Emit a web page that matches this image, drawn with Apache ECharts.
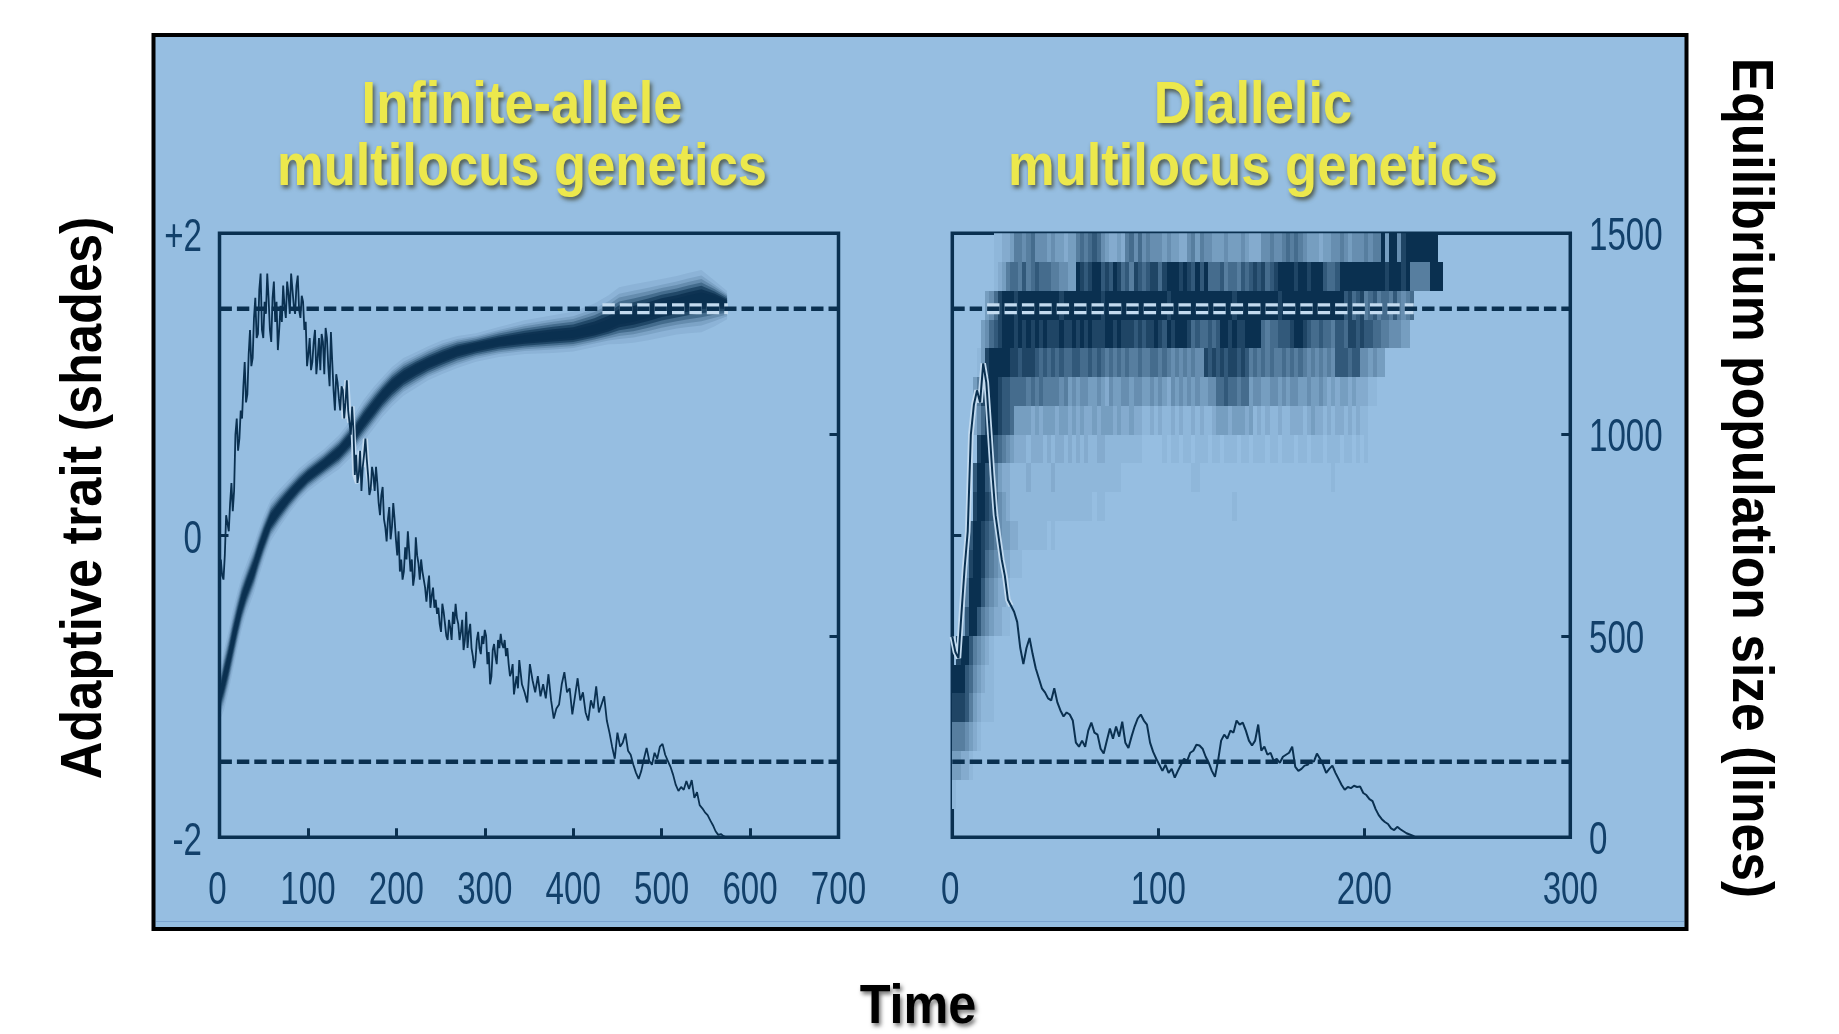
<!DOCTYPE html>
<html><head><meta charset="utf-8">
<style>html,body{margin:0;padding:0;background:#fff}#c{width:1839px;height:1034px}</style>
<script src="https://cdn.jsdelivr.net/npm/echarts@6/dist/echarts.min.js"></script>
</head><body><div id="c"></div>
<script>
const xTicksLeft=[0,100,200,300,400,500,600,700];
const xTicksRight=[0,100,200,300];
const traitTicks=[2,0,-2];
const traitTickLabels=['+2','0','-2'];
const popTicks=[0,500,1000,1500];
const dashLevels=[1.5,-1.5];

// adaptive trait shading, infinite-allele panel
const traitTime=[0,5,10,15,20,25,30,39,44,50,58,68,79,90,100,118,135,150,163,175,184,195,208,222,236,252,269,290,316,345,377,400,424,440,452,468,485,500,517,530,545,560,574];
const traitMean=[-1.08,-0.96,-0.84,-0.7,-0.57,-0.45,-0.36,-0.22,-0.12,-0.02,0.1,0.18,0.26,0.33,0.39,0.47,0.55,0.65,0.76,0.85,0.92,0.99,1.05,1.1,1.14,1.18,1.22,1.25,1.28,1.3,1.32,1.33,1.36,1.39,1.43,1.45,1.48,1.51,1.53,1.55,1.57,1.56,1.53];
const traitUpper=[-0.95,-0.8,-0.68,-0.54,-0.42,-0.31,-0.23,-0.09,0,0.1,0.21,0.28,0.35,0.42,0.47,0.55,0.64,0.75,0.87,0.96,1.02,1.09,1.15,1.19,1.23,1.27,1.3,1.32,1.36,1.4,1.43,1.45,1.5,1.55,1.6,1.62,1.64,1.66,1.68,1.7,1.72,1.66,1.6];
const traitLower=[-1.2,-1.12,-1,-0.86,-0.72,-0.59,-0.49,-0.35,-0.25,-0.14,-0.01,0.08,0.17,0.25,0.31,0.39,0.46,0.55,0.65,0.74,0.81,0.88,0.95,1,1.05,1.09,1.13,1.17,1.2,1.22,1.23,1.24,1.27,1.29,1.3,1.31,1.33,1.35,1.37,1.38,1.39,1.42,1.45];

// population size, infinite-allele panel, one value every 3 generations
const popStepLeft=3;
const popLeft=[620,650,700,780,830,810,1000,960,1060,1120,1080,1200,1170,1290,1240,1360,1260,1330,1400,1260,1340,1280,1210,1320,1370,1290,1350,1400,1320,1370,1310,1345,1260,1170,1240,1180,1260,1190,1160,1230,1265,1170,1255,1110,1150,1090,1120,1040,1135,1030,1070,900,880,960,920,990,900,865,900,920,830,850,790,735,820,770,790,700,660,640,720,760,660,625,745,680,690,640,585,650,600,570,555,530,580,530,490,520,560,580,530,510,465,560,510,470,420,490,470,500,515,430,380,465,450,490,505,470,450,430,410,355,400,440,380,360,335,430,390,360,400,350,380,345,405,340,295,320,330,380,410,360,370,305,350,395,340,360,310,290,340,320,375,310,330,350,290,260,225,195,260,225,235,258,215,205,180,160,145,165,195,222,190,180,210,195,225,232,205,190,175,155,130,115,125,118,140,120,142,98,112,80,72,62,55,42,30,15,6,8,3,0];
// extra wiggle readings half way between the values above, early part of the line
const popLeftBetween=[690,640,800,760,880,860,1040,990,1040,1180,1100,1260,1190,1340,1250,1400,1240,1300,1340,1230,1380,1330,1260,1280,1320,1380,1300,1360,1300,1395,1290,1330,1280,1200,1160,1230,1150,1240,1250,1150,1240,1120,1180,1060,1130,1060,1110,1080,1060,1000,1010,950,900,860,950,940,850,920,860,880,800,870,770,790,740,830,740,760,690,660,690,710,690,650,700,640,660,620,620,570,620,590,570,510,560,500,540,490,530,545,490,540,490,470,530,450,440,510,455,480,500,460,400,480,430,470,480,490,470,400,430,380,370,410];

// population size, diallelic panel, one value every 1.5 generations
const popStepRight=1.5;
const popRight=[498,460,445,560,670,760,1000,1075,1110,1080,1177,1130,1018,900,800,745,690,650,590,575,560,535,470,430,470,495,455,420,395,370,360,345,340,370,335,315,300,310,305,290,235,225,240,225,265,285,260,255,220,208,240,270,245,275,250,287,235,222,250,275,295,305,290,280,235,212,195,180,165,180,160,170,148,165,180,195,190,210,215,230,228,220,200,185,165,150,190,240,255,245,265,260,290,280,285,265,240,228,240,280,215,225,205,210,190,195,185,200,205,210,225,175,165,170,178,180,190,188,208,195,180,160,170,178,160,145,130,118,125,122,128,125,126,110,105,95,90,70,55,45,38,33,22,18,26,20,15,10,7,4,0];

// shade (0-9) of each trait class over time, top class first, one digit per 2 generations
const shadeColumnStep=2;
const shadeRow00='00000000'+'0011223'+'55456'+'444343'+'3233'+'565676'+'432232'+'564645'+'444343'+'322'+'453544'+'333433'+'34322'+'244544'+'565654'+'333233'+'4454344'+'4545'+'59399489'+'9999999';
const shadeRow01='0000000000'+'123'+'56657567666554433'+'98789978798'+'67587678868'+'9998987979'+'6667566576'+'7878678'+'99998998999'+'7667'+'99999999999899989'+'55555'+'999';
const shadeRow02='00000000'+'3468'+'99989999999999899999999989999999999999998999999999999999899999999998999999999999999'+'78678567566575456';
const shadeRow03='0000000'+'34678'+'99989898989888988'+'989898889989888'+'78788987989998'+'6766767'+'9989889999'+'6566777'+'89987'+'667665776'+'8878776'+'65544433';
const shadeRow04='000000'+'13899999'+'887888'+'76767676677667676'+'5656565565566565'+'45454544'+'87878788787'+'56565655656565'+'4545454'+'777677'+'443433';
const shadeRow05='00000358999'+'87766665656555545'+'343443343243344344334343243434343344'+'66766566'+'3443344343443343'+'343232332322211';
const shadeRow06='000002468998776'+'3333232333233232322323332322322'+'112121121211212112'+'333233323'+'121211211'+'222123221212212121'+'1';
const shadeRow07='000000899876543'+'2221222121221212121122111111111'+'00000'+'10110110111011011101101110110111011011101110110101';
const shadeRow08='00000799765322'+'1111211111211111111111111'+'11000'+'0000000000000011000000000000000000000000000000001';
const shadeRow09='00000899876432'+'11111111111111111111011'+'0000000000000000000000000000000100';
const shadeRow10='0000799876543322111'+'1111010';
const shadeRow11='0004899865432211'+'1';
const shadeRow12='00059997543221';
const shadeRow13='00379975432211';
const shadeRow14='0899754321';
const shadeRow15='9997643211';
const shadeRow16='8887532111';
const shadeRow17='5554321';
const shadeRow18='33221';
const shadeRow19='1';
const shadeRows=[shadeRow00,shadeRow01,shadeRow02,shadeRow03,shadeRow04,shadeRow05,shadeRow06,shadeRow07,shadeRow08,shadeRow09,shadeRow10,shadeRow11,shadeRow12,shadeRow13,shadeRow14,shadeRow15,shadeRow16,shadeRow17,shadeRow18,shadeRow19];
const traitClassCount=21;

const DARK='#0a3050', BGRGB=[0x96,0xbe,0xe1], BG='#96bee1', HALO='#c3dbf0', TXT='#12406a';
const SANS='"Liberation Sans",sans-serif';
const classH=4/traitClassCount;
const stepped=(vs,s)=>vs.map((v,i)=>[i*s,v]);
const cells=[];
shadeRows.forEach((r,i)=>{[...r].forEach((d,j)=>{if(+d>0)cells.push([j*shadeColumnStep,2-i*classH,+d]);});});
function mix(d){
  const a=Math.pow(d/9,1.35),c=[0x0a,0x30,0x50];
  return 'rgb('+BGRGB.map((v,k)=>Math.round(v+(c[k]-v)*a)).join(',')+')';
}
const popLeftPts=stepped(popLeft,popStepLeft), popRightPts=stepped(popRight,popStepRight);
const popLeftDense=[];
popLeftPts.forEach((p,i)=>{popLeftDense.push(p);if(i<popLeftBetween.length)popLeftDense.push([p[0]+popStepLeft/2,popLeftBetween[i]]);});
const line=(o)=>Object.assign({type:'line',showSymbol:false,symbol:'none',silent:true,animation:false},o);

const ticks={show:true,inside:true,length:9,lineStyle:{color:DARK,width:3}};
const noLine={show:false,onZero:false};
const noLabel={show:false};
const chart=echarts.init(document.getElementById('c'),null,{renderer:'canvas'});
const bandLayers=[[1.25,.07],[1,.12],[.85,.2],[.7,.35],[.55,.6],[.4,.85],[.25,.9]];
const series=[
  {type:'custom',xAxisIndex:1,yAxisIndex:2,silent:true,animation:false,clip:true,data:cells,z:1,
   renderItem:(p,api)=>{
     const t=api.value(0),hi=api.value(1);
     const a=api.coord([t,hi]),b=api.coord([t+shadeColumnStep,hi-classH]);
     const x=Math.round(a[0]),y=Math.round(a[1]);
     return {type:'rect',shape:{x,y,width:Math.round(b[0])-x,height:Math.round(b[1])-y},style:{fill:mix(api.value(2))}};
   }},
  {type:'custom',xAxisIndex:0,yAxisIndex:0,silent:true,animation:false,clip:true,data:bandLayers,z:2,
   renderItem:(p,api)=>{
     const f=api.value(0),o=api.value(1);
     const top=traitTime.map((t,i)=>api.coord([t,traitMean[i]+(traitUpper[i]-traitMean[i])*f]));
     const bot=traitTime.map((t,i)=>api.coord([t,traitMean[i]+(traitLower[i]-traitMean[i])*f])).reverse();
     return {type:'polygon',shape:{points:top.concat(bot)},style:{fill:DARK,opacity:o}};
   }},
  line({xAxisIndex:0,yAxisIndex:0,z:3,data:[[433,dashLevels[0]],[575,dashLevels[0]]],lineStyle:{color:HALO,width:11,type:[12.4,5]}}),
  line({xAxisIndex:1,yAxisIndex:2,z:3,data:[[16.89,dashLevels[0]],[224,dashLevels[0]]],lineStyle:{color:HALO,width:11,type:[12.4,5]}}),
  ...dashLevels.map(l=>line({xAxisIndex:0,yAxisIndex:0,z:4,data:[[0,l],[700,l]],lineStyle:{color:DARK,width:4.5,type:[12.4,5]}})),
  ...dashLevels.map(l=>line({xAxisIndex:1,yAxisIndex:2,z:4,data:[[0,l],[300,l]],lineStyle:{color:DARK,width:4.5,type:[12.4,5]}})),
  line({xAxisIndex:0,yAxisIndex:1,z:5,data:popLeftPts.slice(46,58),lineStyle:{color:HALO,width:5}}),
  line({xAxisIndex:1,yAxisIndex:3,z:5,data:popRightPts.slice(0,20),lineStyle:{color:HALO,width:5.5}}),
  line({xAxisIndex:0,yAxisIndex:1,z:6,data:popLeftDense,lineStyle:{color:DARK,width:1.8}}),
  line({xAxisIndex:1,yAxisIndex:3,z:6,data:popRightPts,lineStyle:{color:DARK,width:2}})
];
const xAx=(i,max)=>({type:'value',gridIndex:i,position:'bottom',min:0,max,interval:100,axisLine:noLine,axisTick:ticks,splitLine:{show:false},axisLabel:noLabel});
const yAx=(i,pos,min,max,interval)=>({type:'value',gridIndex:i,position:pos,min,max,interval,axisLine:noLine,axisTick:ticks,splitLine:{show:false},axisLabel:noLabel});
chart.setOption({
  animation:false,
  backgroundColor:'#fff',
  grid:[
    {left:219.5,top:233.3,width:619,height:604,show:true,borderColor:DARK,borderWidth:3.5,backgroundColor:'transparent'},
    {left:952.3,top:233.3,width:618,height:604,show:true,borderColor:DARK,borderWidth:3.5,backgroundColor:'transparent'}
  ],
  xAxis:[xAx(0,xTicksLeft[xTicksLeft.length-1]),xAx(1,xTicksRight[xTicksRight.length-1])],
  yAxis:[yAx(0,'left',-2,2,2),yAx(0,'right',popTicks[0],popTicks[3],500),yAx(1,'left',-2,2,2),yAx(1,'right',popTicks[0],popTicks[3],500)],
  series
});

// tick labels placed through the axes' scales, condensed to match the original lettering
const tick=(text,x,y,align)=>({type:'text',z:20,silent:true,x,y,scaleX:.72,style:{text:String(text),textAlign:align,textVerticalAlign:'middle',fill:TXT,font:'46px '+SANS}});
const px=(axis,i,v)=>chart.convertToPixel(axis==='x'?{xAxisIndex:i}:{yAxisIndex:i},v);
const labels=[
  ...xTicksLeft.map(v=>tick(v,px('x',0,v)-(v===0?2:0),891,'center')),
  ...xTicksRight.map(v=>tick(v,px('x',1,v)-(v===0?2:0),891,'center')),
  ...traitTicks.map((v,i)=>tick(traitTickLabels[i],202,px('y',0,v)+5,'right')),
  ...popTicks.map(v=>tick(v,1589,px('y',3,v)+4,'left'))
];
const titleStyle={textAlign:'center',textVerticalAlign:'middle',fill:'#ece84c',font:'bold 60px '+SANS,textShadowColor:'rgba(50,50,20,.7)',textShadowBlur:4,textShadowOffsetX:2,textShadowOffsetY:3};
chart.setOption({graphic:[
  {type:'rect',z:-10,silent:true,shape:{x:153.5,y:35,width:1533,height:894},style:{fill:BG,stroke:'#000',lineWidth:4}},
  {type:'rect',z:-9,silent:true,shape:{x:156,y:921,width:1528,height:1},style:{fill:'#7ba4d0'}},
  ...[['Infinite-allele',522,106],['multilocus genetics',522,168],['Diallelic',1253,106],['multilocus genetics',1253,168]].map(a=>({
    type:'text',z:20,silent:true,x:a[1],y:a[2],scaleX:.875,style:Object.assign({text:a[0]},titleStyle)
  })),
  {type:'text',z:20,silent:true,x:85,y:498,rotation:Math.PI/2,scaleX:.9,style:{text:'Adaptive trait (shades)',textAlign:'center',textVerticalAlign:'middle',fill:'#000',font:'bold 58px '+SANS}},
  {type:'text',z:20,silent:true,x:1749,y:478,rotation:-Math.PI/2,scaleX:.89,style:{text:'Equilibrium population size (lines)',textAlign:'center',textVerticalAlign:'middle',fill:'#000',font:'bold 58px '+SANS}},
  {type:'text',z:20,silent:true,x:918,y:1008,scaleX:.9,style:{text:'Time',textAlign:'center',textVerticalAlign:'middle',fill:'#000',font:'bold 56px '+SANS,textShadowColor:'rgba(0,0,0,.55)',textShadowBlur:4,textShadowOffsetX:2,textShadowOffsetY:3}},
  ...labels
]});
</script></body></html>
